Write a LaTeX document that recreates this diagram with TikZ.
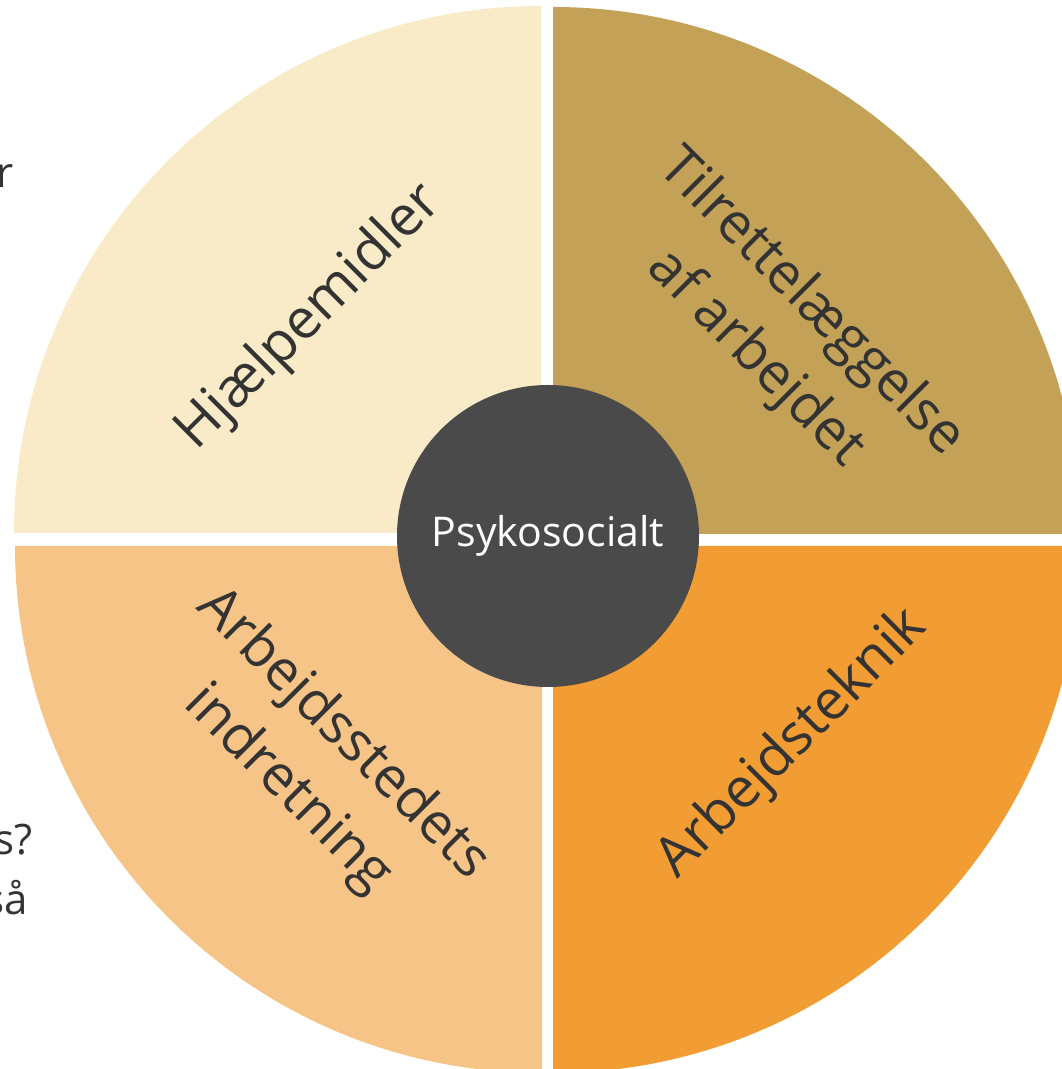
\documentclass[tikz,border=0pt]{standalone}
\usepackage{fontspec}
\setmainfont{Open Sans}
\usetikzlibrary{positioning}
\definecolor{paleq}{HTML}{FAEBC8}
\definecolor{goldq}{HTML}{C3A257}
\definecolor{peachq}{HTML}{F7C487}
\definecolor{orangeq}{HTML}{F29D33}
\definecolor{hubgrey}{HTML}{4A4A4A}
\definecolor{inkgrey}{HTML}{333333}

\begin{document}
\begin{tikzpicture}[x=1pt, y=1pt, quarter/.style={draw=none}, sector/.style={text=inkgrey, font=\fontsize{55.5}{78}\selectfont, align=center, inner sep=0pt}, hub/.style={circle, fill=hubgrey, minimum size=302pt, inner sep=0pt, text=white, font=\fontsize{41}{50}\selectfont}, cut/.style={text=inkgrey, font=\fontsize{42}{50}\selectfont, inner sep=0pt, anchor=base east}]
	\useasboundingbox (0,0) rectangle (1061,1069);
	% the four quarters, pulled apart a little
	\fill[quarter, paleq] (541,536) -- ++(90:527) arc[start angle=90, end angle=180, radius=527] -- cycle;
	\fill[quarter, goldq] (553,535) -- ++(0:527) arc[start angle=0, end angle=90, radius=527] -- cycle;
	\fill[quarter, peachq] (542,523) -- ++(180:527) arc[start angle=180, end angle=270, radius=527] -- cycle;
	\fill[quarter, orangeq] (553,523) -- ++(270:527) arc[start angle=270, end angle=360, radius=527] -- cycle;
	\draw (548,533)node[hub](psy){Psykosocialt};
	\draw (310,751)node[sector, rotate=45](hjaelp){Hjælpemidler};
	\draw (783,738)node[sector, rotate=-45](tilret){Tilrettelæggelse\\af arbejdet};
	\draw (315,307)node[sector, rotate=-45](indret){Arbejdsstedets\\indretning};
	\draw (793,325)node[sector, rotate=45](teknik){Arbejdsteknik};
	% text cut off at the left edge
	\draw (14,881)node[cut](cut1){r};
	\draw (33,214)node[cut](cut2){s?};
	\draw (28,154)node[cut](cut3){så};
\end{tikzpicture}
\end{document}
